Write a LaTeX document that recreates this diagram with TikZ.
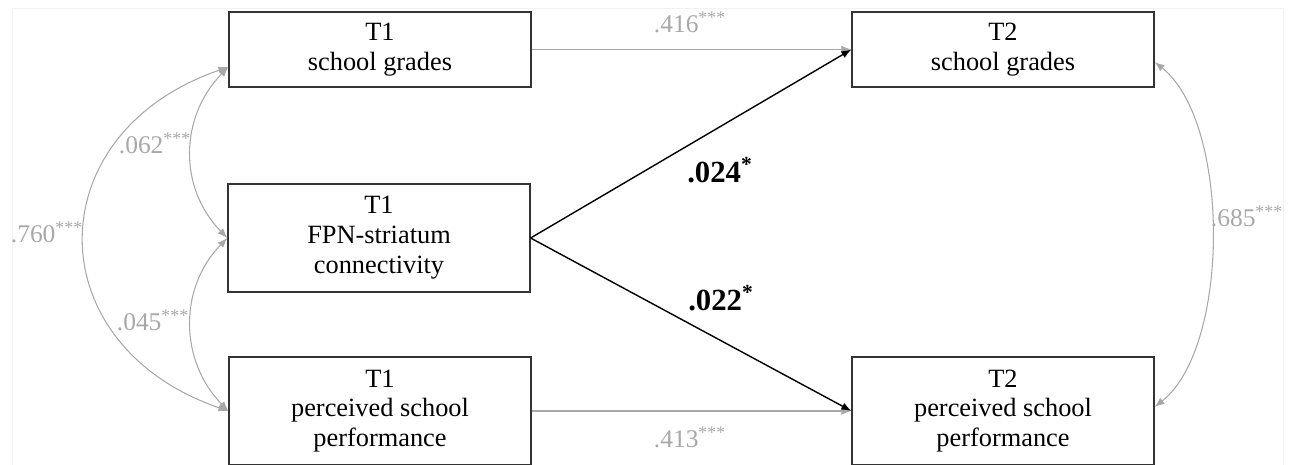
\documentclass[tikz,border=0pt]{standalone}
\usepackage{fontspec}
\setmainfont{Liberation Serif}
\usetikzlibrary{arrows.meta}
\definecolor{pathgray}{RGB}{168,168,168}
\definecolor{framegray}{RGB}{242,242,242}

\tikzset{
  box/.style={draw=black!80, line width=0.7pt, minimum width=6.04cm, inner sep=0pt,
    align=center, font=\fontsize{15}{17}\selectfont},
  shortbox/.style={box, minimum height=1.5cm},
  tallbox/.style={box, minimum height=2.16cm},
  graypath/.style={draw=pathgray, line width=0.6pt, -{Latex[length=2mm,width=1.5mm]}},
  graycov/.style={draw=pathgray, line width=0.6pt, {Latex[length=2mm,width=1.5mm]}-{Latex[length=2mm,width=1.5mm]}},
  blackpath/.style={draw=black, line width=0.8pt, -{Latex[length=2mm,width=1.5mm]}},
  graylabel/.style={text=pathgray, inner sep=0pt, font=\fontsize{14.5}{16}\selectfont},
  boldlabel/.style={inner sep=0pt, font=\fontsize{17.5}{19}\selectfont\bfseries}
}

\begin{document}
\begin{tikzpicture}[x=0.02cm, y=-0.02cm]
      \useasboundingbox (0,0) rectangle (1290,464);
      \draw[framegray, line width=0.4pt] (12,8) rectangle (1283,470);

      % T1 side
      \node[shortbox] (g1) at (380, 49.5) {T1\\school grades};
      \node[tallbox]  (c1) at (379, 238)  {T1\\FPN-striatum\\connectivity};
      \node[tallbox]  (p1) at (380, 411)  {T1\\perceived school\\performance};
      % T2 side
      \node[shortbox] (g2) at (1003, 49.5) {T2\\school grades};
      \node[tallbox]  (p2) at (1003, 411)  {T2\\perceived school\\performance};

      % stability paths
      \draw[graypath] (g1.east) -- (g2.west);
      \draw[graypath] (p1.east) -- (p2.west);
      \node[graylabel] (l416) at (690, 22)  {.416\textsuperscript{***}};
      \node[graylabel] (l413) at (690, 437) {.413\textsuperscript{***}};

      % connectivity paths
      \draw[blackpath] (c1.east) -- (g2.west);
      \draw[blackpath] (c1.east) -- (p2.west);
      \node[boldlabel] (l024) at (720, 170) {.024\textsuperscript{*}};
      \node[boldlabel] (l022) at (721, 298) {.022\textsuperscript{*}};

      % covariances
      \draw[graycov] ([yshift=-0.35cm]g1.west) .. controls +(-49,50) and +(-49,-50) .. (c1.west);
      \draw[graycov] (c1.west) .. controls +(-49,50) and +(-49,-50) .. (p1.west);
      \draw[graycov] ([yshift=-0.35cm]g1.west) .. controls +(-192,66) and +(-192,-66) .. (p1.west);
      \draw[graycov] ([yshift=-0.25cm]g2.east) .. controls +(76,60) and +(76,-60) .. ([yshift=0.08cm]p2.east);
      \node[graylabel] (l062) at (155, 143) {.062\textsuperscript{***}};
      \node[graylabel] (l045) at (153, 320) {.045\textsuperscript{***}};
      \node[graylabel] (l760) at (47, 232)  {.760\textsuperscript{***}};
      \node[graylabel] (l685) at (1247, 216) {.685\textsuperscript{***}};
    \end{tikzpicture}
\end{document}
